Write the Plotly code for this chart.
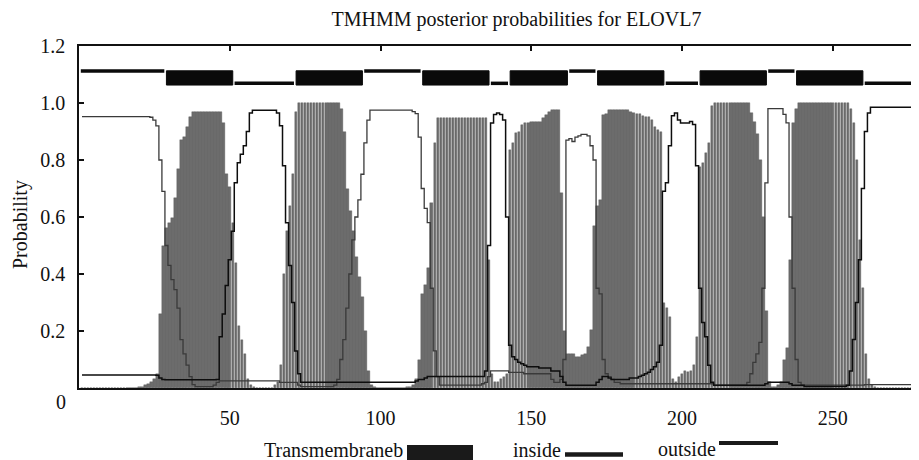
import plotly.graph_objects as go

# ---------------- data ----------------
residues = list(range(1, 282))

tm_prob = [
    0, 0, 0, 0, 0, 0, 0, 0, 0, 0,
    0, 0, 0, 0, 0, 0, 0, 0, 0, 0.005,
    0.005, 0.01, 0.015, 0.02, 0.03, 0.05, 0.26, 0.50, 0.56, 0.58,
    0.595, 0.665, 0.77, 0.87, 0.88, 0.917, 0.952, 0.97, 0.97, 0.97,
    0.97, 0.97, 0.97, 0.97, 0.97, 0.97, 0.97, 0.93, 0.75, 0.706,
    0.58, 0.438, 0.216, 0.17, 0.12, 0.03, 0.01, 0.005, 0, 0,
    0, 0, 0, 0, 0.01, 0.02, 0.08, 0.40, 0.55, 0.64,
    0.75, 0.97, 1, 1, 1, 1, 1, 1, 1, 1,
    1, 1, 1, 1, 1, 1, 0.98, 0.90, 0.70, 0.62,
    0.55, 0.46, 0.39, 0.32, 0.20, 0.06, 0.01, 0.005, 0, 0,
    0, 0, 0, 0, 0, 0, 0, 0, 0.005, 0.005,
    0.01, 0.03, 0.10, 0.33, 0.36, 0.42, 0.65, 0.86, 0.946, 0.946,
    0.946, 0.946, 0.946, 0.946, 0.946, 0.946, 0.946, 0.946, 0.946, 0.946,
    0.946, 0.946, 0.946, 0.946, 0.946, 0.45, 0.05, 0.02, 0.02, 0.03,
    0.04, 0.05, 0.835, 0.86, 0.894, 0.90, 0.923, 0.929, 0.929, 0.934,
    0.934, 0.934, 0.934, 0.946, 0.958, 0.969, 0.975, 0.975, 0.975, 0.683,
    0.20, 0.12, 0.12, 0.12, 0.11, 0.11, 0.115, 0.12, 0.145, 0.205,
    0.57, 0.64, 0.66, 0.958, 0.96, 0.975, 0.975, 0.975, 0.975, 0.975,
    0.975, 0.975, 0.97, 0.965, 0.96, 0.96, 0.955, 0.95, 0.95, 0.94,
    0.917, 0.905, 0.90, 0.30, 0.28, 0.25, 0.03, 0.02, 0.04, 0.05,
    0.06, 0.055, 0.06, 0.08, 0.18, 0.777, 0.79, 0.823, 0.859, 0.99,
    1, 1, 1, 1, 1, 1, 1, 1, 1, 1,
    1, 1, 0.965, 0.935, 0.89, 0.80, 0.60, 0.27, 0.02, 0.005,
    0.005, 0.01, 0.02, 0.10, 0.14, 0.45, 0.93, 0.98, 1, 1,
    1, 1, 1, 1, 1, 1, 1, 1, 1, 1,
    1, 1, 1, 1, 1, 0.98, 0.93, 0.80, 0.52, 0.35,
    0.12, 0.03, 0.01, 0.005, 0, 0, 0, 0, 0, 0,
    0, 0, 0, 0, 0, 0, 0, 0, 0, 0, 0,
]

inside_prob = [
    0.046, 0.046, 0.046, 0.046, 0.046, 0.046, 0.046, 0.046, 0.046, 0.046,
    0.046, 0.046, 0.046, 0.046, 0.046, 0.046, 0.046, 0.046, 0.046, 0.046,
    0.046, 0.046, 0.046, 0.046, 0.046, 0.045, 0.035, 0.03, 0.029, 0.029,
    0.029, 0.029, 0.029, 0.029, 0.029, 0.029, 0.029, 0.029, 0.029, 0.029,
    0.029, 0.029, 0.029, 0.029, 0.029, 0.03, 0.18, 0.26, 0.36, 0.45,
    0.55, 0.72, 0.79, 0.82, 0.85, 0.90, 0.965, 0.975, 0.975, 0.975,
    0.975, 0.975, 0.975, 0.975, 0.975, 0.965, 0.92, 0.78, 0.58, 0.43,
    0.30, 0.13, 0.05, 0.02, 0.02, 0.02, 0.02, 0.02, 0.02, 0.02,
    0.02, 0.02, 0.02, 0.02, 0.02, 0.02, 0.02, 0.02, 0.02, 0.02,
    0.02, 0.02, 0.02, 0.02, 0.02, 0.02, 0.02, 0.02, 0.02, 0.02,
    0.02, 0.02, 0.02, 0.02, 0.02, 0.02, 0.02, 0.02, 0.02, 0.02,
    0.02, 0.025, 0.03, 0.03, 0.035, 0.04, 0.04, 0.04, 0.04, 0.04,
    0.04, 0.04, 0.04, 0.04, 0.04, 0.04, 0.04, 0.04, 0.04, 0.04,
    0.04, 0.04, 0.04, 0.04, 0.06, 0.50, 0.93, 0.96, 0.965, 0.96,
    0.94, 0.60, 0.15, 0.11, 0.10, 0.09, 0.085, 0.08, 0.075, 0.075,
    0.075, 0.075, 0.07, 0.07, 0.07, 0.07, 0.06, 0.06, 0.06, 0.04,
    0.02, 0.01, 0.01, 0.01, 0.01, 0.01, 0.01, 0.01, 0.01, 0.01,
    0.01, 0.02, 0.03, 0.04, 0.04, 0.035, 0.03, 0.03, 0.03, 0.03,
    0.03, 0.03, 0.035, 0.035, 0.035, 0.04, 0.045, 0.05, 0.055, 0.065,
    0.075, 0.09, 0.15, 0.69, 0.72, 0.85, 0.955, 0.965, 0.94, 0.93,
    0.93, 0.93, 0.935, 0.925, 0.78, 0.35, 0.23, 0.18, 0.08, 0.02,
    0.01, 0.01, 0.01, 0.01, 0.01, 0.01, 0.01, 0.01, 0.01, 0.01,
    0.01, 0.01, 0.01, 0.01, 0.01, 0.01, 0.01, 0.015, 0.02, 0.02,
    0.02, 0.02, 0.02, 0.02, 0.02, 0.015, 0.01, 0.01, 0.01, 0.01,
    0.005, 0.005, 0.005, 0.005, 0.005, 0.005, 0.005, 0.005, 0.005, 0.005,
    0.005, 0.005, 0.005, 0.005, 0.01, 0.06, 0.17, 0.30, 0.45, 0.70,
    0.90, 0.965, 0.985, 0.985, 0.985, 0.985, 0.985, 0.985, 0.985, 0.985,
    0.985, 0.985, 0.985, 0.985, 0.985, 0.985, 0.985, 0.985, 0.985, 0.985, 0.985,
]

outside_prob = [
    0.952, 0.952, 0.952, 0.952, 0.952, 0.952, 0.952, 0.952, 0.952, 0.952,
    0.952, 0.952, 0.952, 0.952, 0.952, 0.952, 0.952, 0.952, 0.952, 0.952,
    0.952, 0.952, 0.952, 0.95, 0.94, 0.92, 0.80, 0.69, 0.50, 0.43,
    0.38, 0.345, 0.28, 0.17, 0.12, 0.08, 0.04, 0.012, 0.005, 0.005,
    0.005, 0.005, 0.005, 0.005, 0.01, 0.02, 0.025, 0.025, 0.025, 0.025,
    0.025, 0.025, 0.025, 0.025, 0.025, 0.025, 0.025, 0.025, 0.025, 0.025,
    0.025, 0.025, 0.025, 0.025, 0.025, 0.025, 0.02, 0.02, 0.02, 0.02,
    0.02, 0.02, 0.01, 0.005, 0.005, 0.005, 0.005, 0.005, 0.005, 0.005,
    0.005, 0.005, 0.005, 0.005, 0.01, 0.03, 0.10, 0.17, 0.28, 0.40,
    0.52, 0.60, 0.66, 0.75, 0.86, 0.94, 0.975, 0.975, 0.975, 0.975,
    0.975, 0.975, 0.975, 0.975, 0.975, 0.975, 0.975, 0.975, 0.975, 0.975,
    0.97, 0.963, 0.88, 0.70, 0.63, 0.58, 0.35, 0.13, 0.04, 0.01,
    0.01, 0.01, 0.01, 0.01, 0.01, 0.01, 0.01, 0.01, 0.01, 0.01,
    0.01, 0.01, 0.01, 0.015, 0.02, 0.04, 0.06, 0.06, 0.06, 0.06,
    0.06, 0.06, 0.055, 0.055, 0.055, 0.055, 0.055, 0.05, 0.05, 0.05,
    0.05, 0.05, 0.05, 0.05, 0.05, 0.05, 0.03, 0.02, 0.02, 0.03,
    0.10, 0.87, 0.875, 0.865, 0.88, 0.885, 0.89, 0.89, 0.885, 0.85,
    0.80, 0.35, 0.33, 0.10, 0.05, 0.04, 0.03, 0.02, 0.02, 0.015,
    0.015, 0.015, 0.015, 0.015, 0.015, 0.015, 0.015, 0.015, 0.015, 0.015,
    0.015, 0.015, 0.015, 0.015, 0.015, 0.015, 0.015, 0.015, 0.015, 0.015,
    0.015, 0.015, 0.015, 0.015, 0.015, 0.015, 0.015, 0.015, 0.015, 0.015,
    0.01, 0.01, 0.01, 0.01, 0.01, 0.01, 0.01, 0.01, 0.01, 0.01,
    0.01, 0.02, 0.05, 0.09, 0.12, 0.16, 0.35, 0.72, 0.98, 0.98,
    0.98, 0.98, 0.98, 0.96, 0.93, 0.60, 0.35, 0.10, 0.02, 0.01,
    0.01, 0.01, 0.01, 0.01, 0.01, 0.01, 0.01, 0.01, 0.01, 0.01,
    0.01, 0.01, 0.01, 0.01, 0.01, 0.01, 0.01, 0.01, 0.01, 0.01,
    0.012, 0.012, 0.012, 0.012, 0.012, 0.012, 0.012, 0.012, 0.012, 0.012,
    0.012, 0.012, 0.012, 0.012, 0.012, 0.012, 0.012, 0.012, 0.012, 0.012, 0.012,
]

# predicted topology (drawn on the top strip)
topo_start = [1, 29, 52, 72, 95, 114, 137, 143, 163, 172, 195, 206, 229, 238, 261]
topo_end = [28, 51, 71, 94, 113, 136, 142, 162, 171, 194, 205, 228, 237, 260, 281]
topo_type = ["outside", "TMhelix", "inside", "TMhelix", "outside", "TMhelix", "inside",
             "TMhelix", "outside", "TMhelix", "inside", "TMhelix", "outside", "TMhelix", "inside"]

title_text = "TMHMM posterior probabilities for ELOVL7"
y_title = "Probability"
x_tick_vals = [50, 100, 150, 200, 250]
y_tick_vals = [0.2, 0.4, 0.6, 0.8, 1.0, 1.2]
y_tick_text = ["0.2", "0.4", "0.6", "0.8", "1.0", "1.2"]
legend_labels = ["Transmembraneb", "inside", "outside"]

assert len(tm_prob) == len(inside_prob) == len(outside_prob) == len(residues) == 281

# ---------------- styling / layout constants ----------------
OFF = 8                      # page body margin offsets the figure by 8 px
W, H = 919, 460
ML = 79 - OFF                # y axis at screen x = 79
MT = 46 - OFF                # y = 1.2 at screen y = 46
PLOT_BOTTOM = 388 - OFF      # y = 0 at screen y = 388
MB = H - PLOT_BOTTOM
MR = 0
PW, PH = W - ML - MR, H - MT - MB
X_MAX = PW / 3.015
TM_LOW, TM_HIGH = 1.063, 1.113
INSIDE_Y, OUTSIDE_Y = 1.069, 1.112
FONT = "Liberation Serif, Times New Roman, serif"
INK = "#111111"


def px_x(px):
    """screen x (reference picture) -> paper coordinate"""
    return (px - OFF - ML) / PW


def px_y(py):
    """screen y (reference picture) -> paper coordinate"""
    return (PLOT_BOTTOM - (py - OFF)) / PH


fig = go.Figure()

fig.add_trace(go.Bar(
    x=residues, y=tm_prob, width=0.84,
    marker=dict(color="#6c6c6c", line=dict(color="#555555", width=0.4)),
    hoverinfo="skip",
))
fig.add_trace(go.Scatter(
    x=residues, y=outside_prob, mode="lines",
    line=dict(color="#3a3a3a", width=1.3, shape="hvh"), hoverinfo="skip",
))
fig.add_trace(go.Scatter(
    x=residues, y=inside_prob, mode="lines",
    line=dict(color="#0d0d0d", width=1.5, shape="hvh"), hoverinfo="skip",
))

# topology strip
tmx, tmy, inx, iny, outx, outy = [], [], [], [], [], []
for s, e, t in zip(topo_start, topo_end, topo_type):
    if t == "TMhelix":
        tmx += [s, e, e, s, s, None]
        tmy += [TM_LOW, TM_LOW, TM_HIGH, TM_HIGH, TM_LOW, None]
    elif t == "inside":
        inx += [s - 0.4, e + 0.3, None]
        iny += [INSIDE_Y, INSIDE_Y, None]
    else:
        outx += [s - 0.4, e + 0.3, None]
        outy += [OUTSIDE_Y, OUTSIDE_Y, None]

fig.add_trace(go.Scatter(x=tmx, y=tmy, mode="lines", fill="toself", fillcolor="#0a0a0a",
                         line=dict(color="#0a0a0a", width=1), hoverinfo="skip"))
fig.add_trace(go.Scatter(x=inx, y=iny, mode="lines", line=dict(color="#0a0a0a", width=3.5),
                         hoverinfo="skip"))
fig.add_trace(go.Scatter(x=outx, y=outy, mode="lines", line=dict(color="#0a0a0a", width=3.5),
                         hoverinfo="skip"))
# invisible trace so the top tick axis is drawn
fig.add_trace(go.Scatter(x=[1], y=[0], xaxis="x2", mode="markers",
                         marker=dict(opacity=0), hoverinfo="skip"))

fig.update_layout(
    width=W, height=H,
    margin=dict(l=ML, r=MR, t=MT, b=MB, autoexpand=False),
    paper_bgcolor="white", plot_bgcolor="white",
    showlegend=False, bargap=0,
    font=dict(family=FONT, size=20, color=INK),
    title=dict(text=title_text, x=px_x(516.5), xref="paper", xanchor="center",
               y=1 - (18.5 - OFF) / H, yref="container", yanchor="middle",
               font=dict(family=FONT, size=20, color=INK)),
    xaxis=dict(range=[0, X_MAX], tickvals=x_tick_vals, ticks="", showline=True, mirror=True,
               linecolor=INK, linewidth=1.5, showgrid=False, zeroline=False,
               ticklabelstandoff=11, tickfont=dict(size=20)),
    xaxis2=dict(overlaying="x", matches="x", side="top", ticks="inside", ticklen=5,
                tickwidth=1.5, tickcolor=INK, tickvals=x_tick_vals, showticklabels=False,
                showline=False, showgrid=False, zeroline=False),
    yaxis=dict(range=[0, 1.2], tickvals=y_tick_vals, ticktext=y_tick_text, ticks="inside",
               ticklen=5, tickwidth=1.5, tickcolor=INK, showline=True, linecolor=INK,
               linewidth=1.5, showgrid=False, zeroline=False, ticklabelstandoff=8,
               tickfont=dict(size=20)),
)

annotations = [
    dict(text="0", x=px_x(68), y=px_y(401.5), xanchor="right", yanchor="middle"),
    dict(text=y_title, x=px_x(20), y=px_y(225), xanchor="center", yanchor="middle",
         textangle=-90),
    dict(text=legend_labels[0], x=px_x(405), y=px_y(450), xanchor="right", yanchor="middle"),
    dict(text=legend_labels[1], x=px_x(563), y=px_y(450), xanchor="right", yanchor="middle"),
    dict(text=legend_labels[2], x=px_x(718), y=px_y(449), xanchor="right", yanchor="middle"),
]
for a in annotations:
    a.update(xref="paper", yref="paper", showarrow=False,
             font=dict(family=FONT, size=20, color=INK))
fig.update_layout(annotations=annotations)

fig.update_layout(shapes=[
    dict(type="rect", xref="paper", yref="paper", x0=px_x(407), x1=px_x(473),
         y0=px_y(463), y1=px_y(445), fillcolor="#1a1a1a", line=dict(width=0)),
    dict(type="line", xref="paper", yref="paper", x0=px_x(565), x1=px_x(623),
         y0=px_y(454.5), y1=px_y(454.5), line=dict(color="#1a1a1a", width=4.5)),
    dict(type="line", xref="paper", yref="paper", x0=px_x(719), x1=px_x(778),
         y0=px_y(443), y1=px_y(443), line=dict(color="#1a1a1a", width=4)),
])

fig.write_html("out.html")
